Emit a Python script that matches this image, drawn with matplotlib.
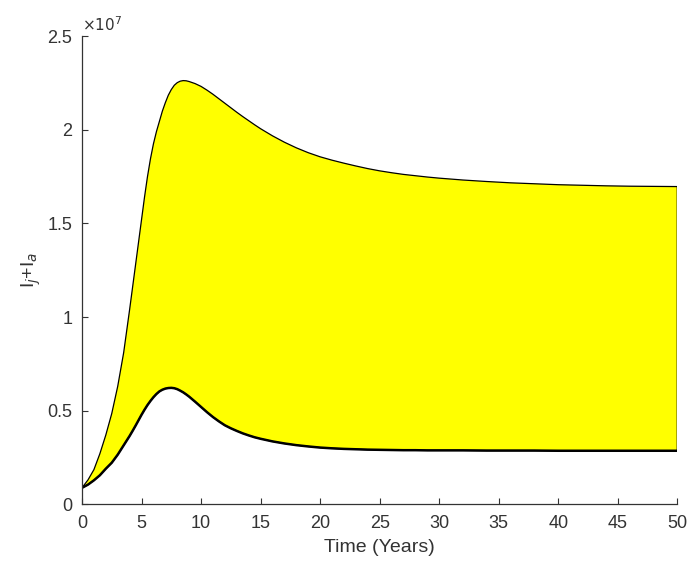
import matplotlib
matplotlib.use("Agg")
import matplotlib.pyplot as plt

# values, y in units of 1e7
t = [0, 0.5, 1, 1.5, 2, 2.5, 3, 3.5, 4, 4.25, 4.5, 4.75, 5, 5.25, 5.5, 5.75, 6, 6.25,
     6.5, 6.75, 7, 7.25, 7.5, 7.75, 8, 8.25, 8.5, 8.75, 9, 9.5, 10, 10.5, 11, 11.5,
     12, 12.5, 13, 13.5, 14, 14.5, 15, 16, 17, 18, 19, 20, 21, 22, 23, 24, 25, 26,
     27, 28, 29, 30, 32, 34, 36, 38, 40, 42, 44, 46, 48, 50]
upper = [0.088, 0.13, 0.185, 0.27, 0.37, 0.485, 0.63, 0.81, 1.04, 1.16, 1.28, 1.40,
         1.52, 1.64, 1.75, 1.845, 1.925, 1.99, 2.045, 2.10, 2.145, 2.185, 2.215, 2.238,
         2.252, 2.26, 2.263, 2.262, 2.258, 2.247, 2.232, 2.212, 2.19, 2.166, 2.142,
         2.118, 2.094, 2.071, 2.049, 2.027, 2.006, 1.968, 1.934, 1.904, 1.878, 1.856,
         1.838, 1.822, 1.807, 1.793, 1.781, 1.771, 1.762, 1.755, 1.748, 1.742, 1.732,
         1.724, 1.717, 1.712, 1.707, 1.704, 1.701, 1.699, 1.698, 1.697]
lower = [0.088, 0.105, 0.128, 0.155, 0.19, 0.222, 0.265, 0.315, 0.365, 0.392, 0.42,
         0.449, 0.478, 0.505, 0.53, 0.552, 0.572, 0.589, 0.603, 0.612, 0.618, 0.621,
         0.622, 0.62, 0.615, 0.607, 0.598, 0.587, 0.575, 0.548, 0.52, 0.492, 0.466,
         0.443, 0.422, 0.406, 0.392, 0.379, 0.368, 0.358, 0.35, 0.336, 0.325, 0.316,
         0.309, 0.303, 0.299, 0.296, 0.294, 0.292, 0.291, 0.29, 0.289, 0.289, 0.288,
         0.288, 0.288, 0.287, 0.287, 0.287, 0.286, 0.286, 0.286, 0.286, 0.286, 0.286]
xticks = [0, 5, 10, 15, 20, 25, 30, 35, 40, 45, 50]
yticks = [0, 0.5, 1, 1.5, 2, 2.5]
ytick_labels = ["0", "0.5", "1", "1.5", "2", "2.5"]

plt.rcParams["font.family"] = ["Liberation Sans", "DejaVu Sans"]
grey = "#333333"

fig = plt.figure(figsize=(6.89, 5.66), dpi=100)
ax = fig.add_axes([0.119, 0.109, 0.864, 0.827])

# filled band, outline like matlab fill()
xs = t + t[::-1]
ys = upper + lower[::-1]
ax.fill(xs, ys, facecolor="#ffff00", edgecolor="black", linewidth=0.9)
ax.plot(t, lower, color="black", linewidth=1.8)

ax.set_xlim(0, 50)
ax.set_ylim(0, 2.5)
ax.set_xticks(xticks)
ax.set_yticks(yticks)
ax.set_yticklabels(ytick_labels)

for side in ["top", "right"]:
    ax.spines[side].set_visible(False)
for side in ["left", "bottom"]:
    ax.spines[side].set_color(grey)
    ax.spines[side].set_linewidth(0.9)
ax.tick_params(direction="in", length=4, width=0.8, colors=grey, labelsize=13,
               labelcolor=grey)
ax.tick_params(axis="x", pad=8)
ax.tick_params(axis="y", pad=7)

ax.set_xlabel("Time (Years)", fontsize=14, color=grey, labelpad=5)
ax.set_ylabel(r"I$_j$+I$_a$", fontsize=14, color=grey, labelpad=3)
ax.text(0.0, 1.005, r"$\times10^{7}$", transform=ax.transAxes, fontsize=11,
        color=grey, ha="left", va="bottom")

fig.savefig("out.png", dpi=100)
